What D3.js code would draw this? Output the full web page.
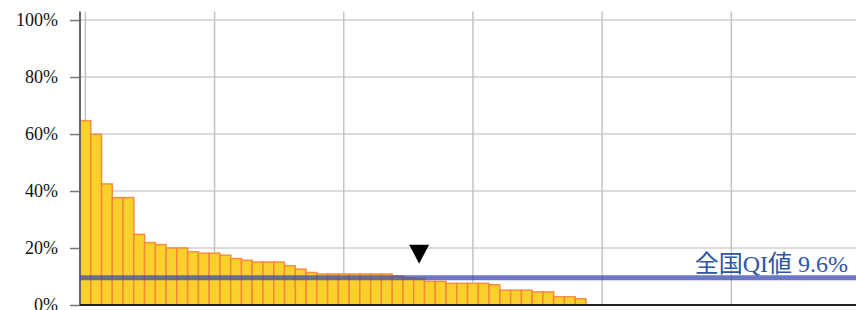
<!DOCTYPE html>
<html>
<head>
<meta charset="utf-8">
<script src="https://cdn.jsdelivr.net/npm/d3@7"></script>
<style>
  body { margin: 0; background: #fff; }
  svg { display: block; }
</style>
</head>
<body>
<div id="chart"></div>
<script>
// Values (percent), sorted descending
const rates = [
  64.7, 59.9, 42.5, 37.7, 37.7, 24.8, 21.9, 21.2, 20.0, 20.0,
  18.7, 18.2, 18.2, 17.5, 16.3, 15.7, 15.1, 15.1, 15.1, 13.8,
  12.6, 11.4, 10.9, 10.9, 10.9, 10.9, 10.9, 10.9, 10.9, 10.2,
  9.5, 9.3, 8.3, 8.3, 7.6, 7.6, 7.6, 7.6, 7.1, 5.2,
  5.2, 5.2, 4.6, 4.6, 2.9, 2.9, 2.2
];
const yTicks = [0, 20, 40, 60, 80, 100];
const xGridTicks = [0, 12, 24, 36, 48, 60];
const nationalQI = 9.6;
const nationalLabel = "全国QI値 9.6%";
const markedIndex = 31;

const width = 856, height = 310;
const margin = { left: 80, bottom: 5, top: 11.5 };

const svg = d3.select("#chart").append("svg")
  .attr("width", width)
  .attr("height", height)
  .attr("font-family", "'Liberation Serif', 'Noto Sans CJK JP', serif");

const x = d3.scaleLinear().domain([0, 72.08]).range([margin.left, width]);
const y = d3.scaleLinear().domain([0, 103]).range([height - margin.bottom, margin.top]);

// grid
svg.append("g").attr("class", "hgrid")
  .selectAll("line").data(yTicks).join("line")
  .attr("x1", margin.left).attr("x2", width)
  .attr("y1", d => y(d)).attr("y2", d => y(d))
  .attr("stroke", "#cfcfcf").attr("stroke-width", 1.5);

svg.append("g").attr("class", "vgrid")
  .selectAll("line").data(xGridTicks).join("line")
  .attr("x1", d => x(d + 0.5)).attr("x2", d => x(d + 0.5))
  .attr("y1", margin.top).attr("y2", y(0))
  .attr("stroke", "#c4c4c4").attr("stroke-width", 1.5);

// bars
svg.append("g").attr("class", "bars")
  .selectAll("rect").data(rates).join("rect")
  .attr("x", (d, i) => x(i))
  .attr("width", (d, i) => x(i + 1) - x(i))
  .attr("y", d => y(d))
  .attr("height", d => y(0) - y(d))
  .attr("fill", "#fad12a")
  .attr("stroke", "#f6843a")
  .attr("stroke-opacity", 0.9)
  .attr("stroke-width", 1.5);

// y axis
const yAxis = svg.append("g")
  .attr("transform", `translate(${margin.left},0)`)
  .call(d3.axisLeft(y).tickValues(yTicks).tickSize(10).tickPadding(12)
    .tickFormat(d => d + "%"));
yAxis.select(".domain").remove();
yAxis.selectAll(".tick line").attr("stroke", "#777").attr("stroke-width", 1.5);
yAxis.selectAll(".tick text")
  .attr("font-size", 18)
  .attr("font-family", "'Liberation Serif', serif")
  .attr("fill", "#111");

svg.append("line")
  .attr("x1", margin.left).attr("x2", margin.left)
  .attr("y1", margin.top).attr("y2", y(0))
  .attr("stroke", "#666").attr("stroke-width", 2);

svg.append("line")
  .attr("x1", margin.left).attr("x2", width)
  .attr("y1", y(0)).attr("y2", y(0))
  .attr("stroke", "#222").attr("stroke-width", 2);

// national QI line
svg.append("line")
  .attr("x1", margin.left).attr("x2", width)
  .attr("y1", y(nationalQI)).attr("y2", y(nationalQI))
  .attr("stroke", "#3c4bb0").attr("stroke-opacity", 0.75)
  .attr("stroke-width", 5);

svg.append("text")
  .attr("x", 848)
  .attr("y", y(nationalQI) - 6)
  .attr("text-anchor", "end")
  .attr("font-size", 24)
  .attr("fill", "#2f55a5")
  .text(nationalLabel);

// marker
const mx = x(markedIndex + 0.5);
const my = y(nationalQI) - 14;
svg.append("path")
  .attr("d", `M${mx - 10},${my - 19}L${mx + 10},${my - 19}L${mx},${my}Z`)
  .attr("fill", "#000");
</script>
</body>
</html>
